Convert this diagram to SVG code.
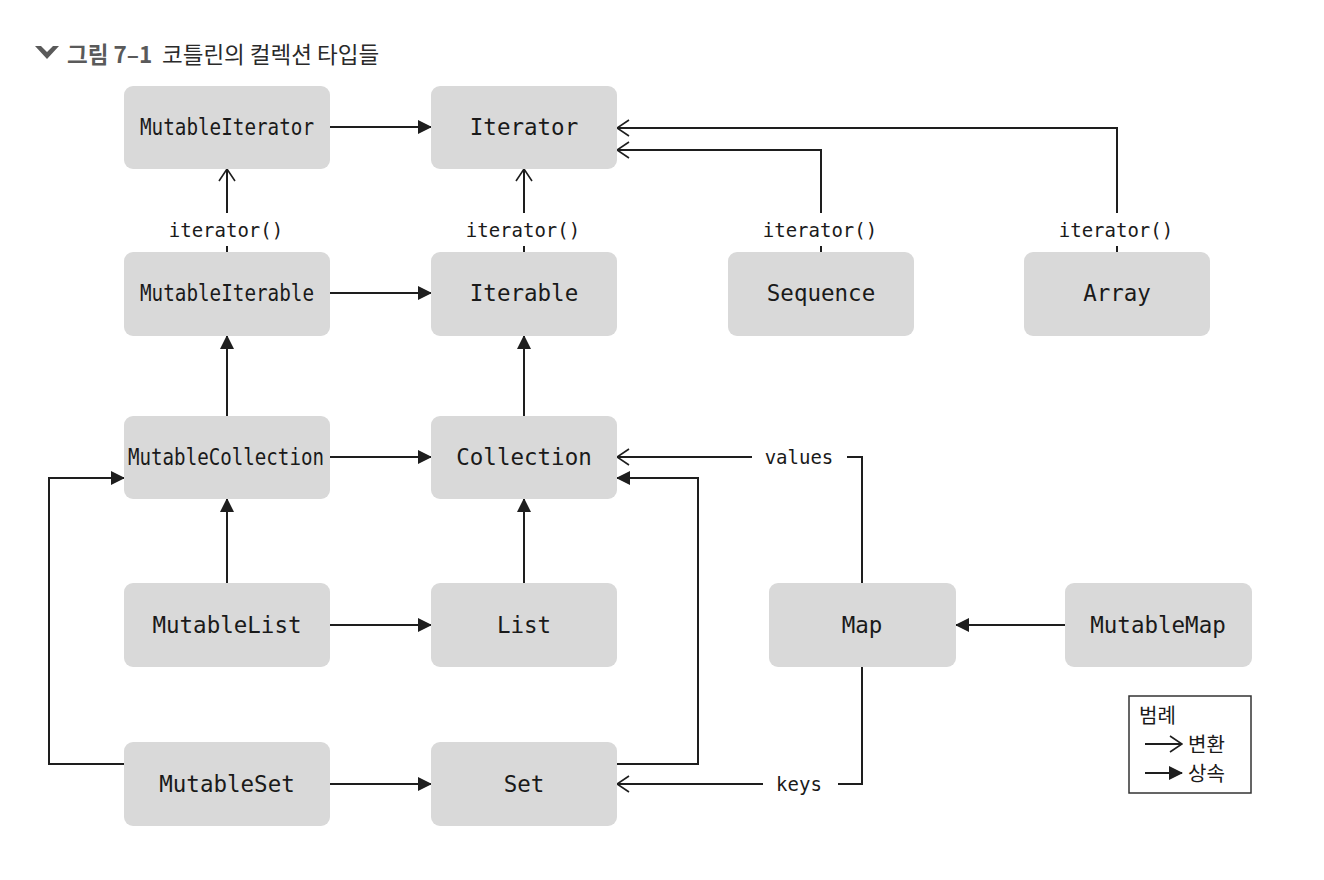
<svg xmlns="http://www.w3.org/2000/svg" width="1324" height="880" viewBox="0 0 1324 880">
<defs>
<style>
.node rect{fill:#d9d9d9;}
.node text{font-family:"DejaVu Sans Mono","Liberation Mono",monospace;font-size:22.5px;fill:#1a1a1a;text-anchor:middle;}
.lbl{font-family:"DejaVu Sans Mono","Liberation Mono",monospace;font-size:19px;fill:#1a1a1a;text-anchor:middle;}
.ln{fill:none;stroke:#1e1e1e;stroke-width:2;}
.inh{marker-end:url(#fill);}
.cnv{marker-end:url(#open);}
.kr{font-family:"Noto Sans CJK KR","Noto Sans",sans-serif;}
</style>
<marker id="fill" viewBox="0 0 14 14" refX="13" refY="7" markerWidth="14" markerHeight="14" markerUnits="userSpaceOnUse" orient="auto">
<path d="M0,0 L14,7 L0,14 Z" fill="#1e1e1e"/>
</marker>
<marker id="open" viewBox="0 0 14 18" refX="13" refY="9" markerWidth="14" markerHeight="18" markerUnits="userSpaceOnUse" orient="auto">
<path d="M1,1 L13,9 L1,17" fill="none" stroke="#1e1e1e" stroke-width="1.6"/>
</marker>
</defs>
<rect width="1324" height="880" fill="#ffffff"/>

<g id="title">
<path d="M35,46 L41,46 L47,52 L53,46 L59,46 L47,59 Z" fill="#5a5a5a"/>
<text x="67" y="63" class="kr" font-size="22.5" font-weight="bold" fill="#5a5a5a">그림 7–1</text>
<text x="162" y="63" class="kr" font-size="22.5" fill="#2a2a2a">코틀린의 컬렉션 타입들</text>
</g>

<g id="connectors">
<line class="ln inh" x1="330" y1="127" x2="431" y2="127"/>
<line class="ln inh" x1="330" y1="293" x2="431" y2="293"/>
<line class="ln inh" x1="330" y1="457" x2="431" y2="457"/>
<line class="ln inh" x1="330" y1="625" x2="431" y2="625"/>
<line class="ln inh" x1="330" y1="784" x2="431" y2="784"/>
<line class="ln inh" x1="1065" y1="625" x2="956" y2="625"/>
<line class="ln inh" x1="227" y1="416" x2="227" y2="336"/>
<line class="ln inh" x1="524" y1="416" x2="524" y2="336"/>
<line class="ln inh" x1="227" y1="583" x2="227" y2="499"/>
<line class="ln inh" x1="524" y1="583" x2="524" y2="499"/>
<polyline class="ln inh" points="124,764 49,764 49,478 124,478"/>
<polyline class="ln inh" points="617,764 698,764 698,478 617,478"/>
<polyline class="ln" points="862,583 862,457 847,457"/>
<line class="ln cnv" x1="752" y1="457" x2="617" y2="457"/>
<polyline class="ln" points="862,667 862,784 838,784"/>
<line class="ln cnv" x1="763" y1="784" x2="617" y2="784"/>
<line class="ln" x1="227" y1="252" x2="227" y2="246"/>
<line class="ln cnv" x1="227" y1="213" x2="227" y2="169"/>
<line class="ln" x1="524" y1="252" x2="524" y2="246"/>
<line class="ln cnv" x1="524" y1="213" x2="524" y2="169"/>
<line class="ln" x1="821" y1="252" x2="821" y2="246"/>
<polyline class="ln cnv" points="821,213 821,150 617,150"/>
<line class="ln" x1="1117" y1="252" x2="1117" y2="246"/>
<polyline class="ln cnv" points="1117,213 1117,128 617,128"/>
<text class="lbl" x="226" y="237">iterator()</text>
<text class="lbl" x="523" y="237">iterator()</text>
<text class="lbl" x="820" y="237">iterator()</text>
<text class="lbl" x="1116" y="237">iterator()</text>
<text class="lbl" x="799" y="464">values</text>
<text class="lbl" x="799" y="791">keys</text>
</g>

<g id="MutableIterator" class="node"><rect x="124" y="86" width="206" height="83" rx="9"/><text x="227" y="135" textLength="174" lengthAdjust="spacingAndGlyphs">MutableIterator</text></g>
<g id="Iterator" class="node"><rect x="431" y="86" width="186" height="83" rx="9"/><text x="524" y="135">Iterator</text></g>
<g id="MutableIterable" class="node"><rect x="124" y="252" width="206" height="84" rx="9"/><text x="227" y="301" textLength="174" lengthAdjust="spacingAndGlyphs">MutableIterable</text></g>
<g id="Iterable" class="node"><rect x="431" y="252" width="186" height="84" rx="9"/><text x="524" y="301">Iterable</text></g>
<g id="Sequence" class="node"><rect x="728" y="252" width="186" height="84" rx="9"/><text x="821" y="301">Sequence</text></g>
<g id="Array" class="node"><rect x="1024" y="252" width="186" height="84" rx="9"/><text x="1117" y="301">Array</text></g>
<g id="MutableCollection" class="node"><rect x="124" y="416" width="206" height="83" rx="9"/><text x="226" y="465" textLength="196" lengthAdjust="spacingAndGlyphs">MutableCollection</text></g>
<g id="Collection" class="node"><rect x="431" y="416" width="186" height="83" rx="9"/><text x="524" y="465">Collection</text></g>
<g id="MutableList" class="node"><rect x="124" y="583" width="206" height="84" rx="9"/><text x="227" y="633">MutableList</text></g>
<g id="List" class="node"><rect x="431" y="583" width="186" height="84" rx="9"/><text x="524" y="633">List</text></g>
<g id="Map" class="node"><rect x="769" y="583" width="187" height="84" rx="9"/><text x="862" y="633">Map</text></g>
<g id="MutableMap" class="node"><rect x="1065" y="583" width="187" height="84" rx="9"/><text x="1158" y="633">MutableMap</text></g>
<g id="MutableSet" class="node"><rect x="124" y="742" width="206" height="84" rx="9"/><text x="227" y="792">MutableSet</text></g>
<g id="Set" class="node"><rect x="431" y="742" width="186" height="84" rx="9"/><text x="524" y="792">Set</text></g>

<g id="legend">
<rect x="1129" y="696" width="122" height="97" fill="#ffffff" stroke="#333" stroke-width="1.5"/>
<text x="1139" y="723" class="kr" font-size="20" fill="#1a1a1a">범례</text>
<line class="ln cnv" x1="1145" y1="744" x2="1182" y2="744"/>
<text x="1188" y="752" class="kr" font-size="20" fill="#1a1a1a">변환</text>
<line class="ln inh" x1="1145" y1="773" x2="1182" y2="773"/>
<text x="1188" y="781" class="kr" font-size="20" fill="#1a1a1a">상속</text>
</g>
</svg>
